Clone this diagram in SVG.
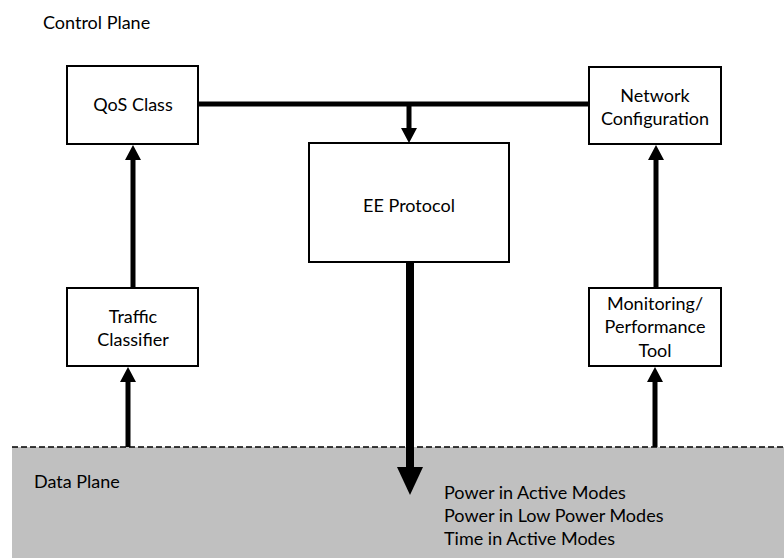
<svg xmlns="http://www.w3.org/2000/svg" width="784" height="558" viewBox="0 0 784 558">
<style>
.box{fill:#fff;stroke:#000;stroke-width:2}
.t{font-family:Lato,"Liberation Sans",sans-serif;font-size:18px;fill:#000}
.c{text-anchor:middle}
.ln{stroke:#000;stroke-width:5;fill:none}
</style>
<defs>
<marker id="ah" markerUnits="userSpaceOnUse" markerWidth="15" markerHeight="16" viewBox="0 0 15 16" refX="0" refY="8" orient="auto">
<path d="M0,0 L15,8 L0,16 Z" fill="#000"/>
</marker>
<marker id="ahb" markerUnits="userSpaceOnUse" markerWidth="28" markerHeight="26" viewBox="0 0 28 26" refX="0" refY="13" orient="auto">
<path d="M0,0 L28,13 L0,26 Z" fill="#000"/>
</marker>
</defs>
<rect width="784" height="558" fill="#fff"/>
<g id="data-plane">
<rect x="12" y="447" width="772" height="111" fill="#c0c0c0"/>
<line x1="12" y1="447" x2="784" y2="447" stroke="#000" stroke-width="1.5" stroke-dasharray="6,3"/>
<text class="t" x="34" y="488">Data Plane</text>
<text class="t" x="444" y="499">Power in Active Modes</text>
<text class="t" x="444" y="522">Power in Low Power Modes</text>
<text class="t" x="444" y="545">Time in Active Modes</text>
</g>
<text class="t" x="43" y="29">Control Plane</text>
<g id="connectors">
<line class="ln" x1="198" y1="104" x2="589" y2="104"/>
<line class="ln" x1="409" y1="102" x2="409" y2="128" marker-end="url(#ah)"/>
<line class="ln" x1="133" y1="288" x2="133" y2="160" marker-end="url(#ah)"/>
<line class="ln" x1="128" y1="447" x2="128" y2="382" marker-end="url(#ah)"/>
<line class="ln" x1="656" y1="288" x2="656" y2="160" marker-end="url(#ah)"/>
<line class="ln" x1="655" y1="447" x2="655" y2="382" marker-end="url(#ah)"/>
<line x1="410" y1="262" x2="410" y2="467" stroke="#000" stroke-width="8" marker-end="url(#ahb)"/>
</g>
<g id="qos-class">
<rect class="box" x="67" y="66" width="131" height="78"/>
<text class="t c" x="133" y="111">QoS Class</text>
</g>
<g id="network-configuration">
<rect class="box" x="589" y="67" width="132" height="77"/>
<text class="t c" x="655" y="102">Network</text>
<text class="t c" x="655" y="125">Configuration</text>
</g>
<g id="ee-protocol">
<rect class="box" x="309" y="143" width="200" height="119"/>
<text class="t c" x="409" y="212">EE Protocol</text>
</g>
<g id="traffic-classifier">
<rect class="box" x="67" y="288" width="131" height="78"/>
<text class="t c" x="133" y="323">Traffic</text>
<text class="t c" x="133" y="346">Classifier</text>
</g>
<g id="monitoring-tool">
<rect class="box" x="589" y="288" width="132" height="78"/>
<text class="t c" x="655" y="310">Monitoring/</text>
<text class="t c" x="655" y="333">Performance</text>
<text class="t c" x="655" y="357">Tool</text>
</g>
</svg>
